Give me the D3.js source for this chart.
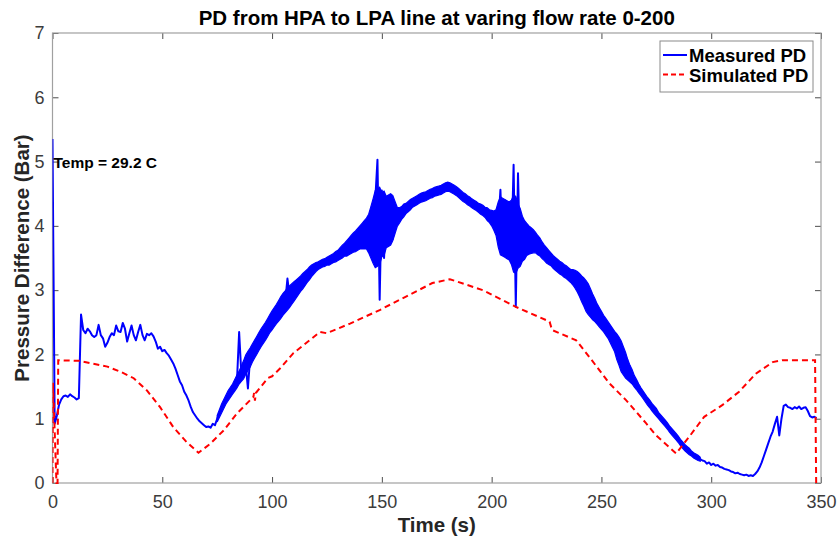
<!DOCTYPE html>
<html>
<head>
<meta charset="utf-8">
<script src="https://cdn.jsdelivr.net/npm/d3@7"></script>
<style>
  body { margin: 0; background: #fff; }
  text { font-family: "Liberation Sans", Arial, sans-serif; }
</style>
</head>
<body>
<script>
// medidas del lienzo
var ancho = 839, alto = 540;
var margen = {izq: 52.5, der: 821, arriba: 33, abajo: 483};

// PD medido, un valor por segundo (t = 0 .. 348 s)
var medido = [
  5.35, 0.92, 1.05, 1.22, 1.30, 1.35, 1.36, 1.34, 1.38, 1.35,
  1.33, 1.30, 1.32, 2.62, 2.38, 2.33, 2.40, 2.36, 2.30, 2.27,
  2.30, 2.46, 2.30, 2.25, 2.12, 2.18, 2.27, 2.33, 2.30, 2.45,
  2.36, 2.35, 2.49, 2.40, 2.20, 2.33, 2.45, 2.30, 2.22, 2.35,
  2.46, 2.30, 2.22, 2.32, 2.30, 2.33, 2.28, 2.20, 2.09, 2.12,
  2.05, 2.07, 2.02, 1.98, 1.92, 1.86, 1.78, 1.68, 1.58, 1.52,
  1.42, 1.36, 1.28, 1.18, 1.10, 1.05, 1.00, 0.96, 0.93, 0.90,
  0.87, 0.88, 0.86, 0.92, 0.90, 1.00, 1.08, 1.16, 1.23, 1.30,
  1.36, 1.41, 1.46, 1.52, 1.58, 2.35, 1.70, 1.76, 1.84, 1.47,
  1.95, 2.02, 2.08, 2.14, 2.20, 2.26, 2.31, 2.36, 2.42, 2.48,
  2.53, 2.58, 2.63, 2.68, 2.73, 2.78, 2.82, 3.18, 2.90, 2.94,
  2.98, 3.02, 3.06, 3.10, 3.14, 3.18, 3.22, 3.26, 3.30, 3.33,
  3.36, 3.38, 3.40, 3.42, 3.43, 3.45, 3.46, 3.48, 3.50, 3.52,
  3.54, 3.57, 3.60, 3.63, 3.65, 3.68, 3.71, 3.74, 3.76, 3.79,
  3.82, 3.84, 3.86, 3.88, 3.85, 3.90, 3.80, 4.40, 5.03, 2.85,
  4.55, 3.50, 4.25, 3.70, 4.30, 3.80, 4.10, 4.10, 4.16, 4.20,
  4.24, 4.27, 4.30, 4.33, 4.36, 4.38, 4.40, 4.42, 4.44, 4.45,
  4.46, 4.48, 4.50, 4.51, 4.53, 4.54, 4.55, 4.56, 4.58, 4.60,
  4.61, 4.60, 4.58, 4.56, 4.54, 4.51, 4.48, 4.45, 4.43, 4.40,
  4.38, 4.35, 4.33, 4.31, 4.28, 4.26, 4.24, 4.21, 4.18, 4.15,
  4.12, 4.08, 4.05, 4.00, 4.56, 3.60, 4.40, 3.80, 4.20, 3.55,
  4.95, 2.74, 4.82, 3.40, 4.10, 3.75, 3.95, 3.78, 3.85, 3.76,
  3.74, 3.70, 3.67, 3.62, 3.58, 3.54, 3.51, 3.48, 3.44, 3.41,
  3.38, 3.35, 3.33, 3.30, 3.28, 3.25, 3.22, 3.20, 3.17, 3.13,
  3.08, 3.02, 2.97, 2.91, 2.86, 2.80, 2.74, 2.69, 2.63, 2.58,
  2.53, 2.48, 2.43, 2.38, 2.32, 2.26, 2.20, 2.12, 2.05, 1.97,
  1.90, 1.83, 1.76, 1.70, 1.65, 1.58, 1.53, 1.47, 1.42, 1.37,
  1.32, 1.27, 1.23, 1.18, 1.14, 1.10, 1.05, 1.01, 0.97, 0.93,
  0.89, 0.84, 0.80, 0.76, 0.72, 0.68, 0.63, 0.59, 0.55, 0.52,
  0.49, 0.46, 0.43, 0.41, 0.39, 0.37, 0.35, 0.34, 0.30, 0.32,
  0.28, 0.30, 0.27, 0.28, 0.25, 0.24, 0.22, 0.21, 0.20, 0.18,
  0.17, 0.15, 0.16, 0.14, 0.13, 0.12, 0.13, 0.11, 0.12, 0.11,
  0.14, 0.18, 0.24, 0.32, 0.42, 0.52, 0.62, 0.72, 0.80, 0.92,
  1.03, 0.74, 1.00, 1.20, 1.22, 1.18, 1.17, 1.15, 1.18, 1.16,
  1.19, 1.15, 1.17, 1.18, 1.12, 1.04, 1.02, 1.03, 1.01
];

// banda de ruido del PD medido (min / max por segundo) desde t = 75 s
var inicioBanda = 75;
var bandaBajo = [
  0.95, 1.02, 1.09, 1.16, 1.23, 1.28, 1.33, 1.38, 1.43, 1.48,
  1.54, 1.58, 1.62, 1.69, 1.75, 1.80, 1.88, 1.94, 2.00, 2.06,
  2.12, 2.17, 2.22, 2.28, 2.34, 2.38, 2.43, 2.48, 2.52, 2.56,
  2.61, 2.65, 2.69, 2.73, 2.78, 2.83, 2.88, 2.93, 2.98, 3.02,
  3.07, 3.12, 3.16, 3.21, 3.25, 3.29, 3.32, 3.34, 3.36, 3.37,
  3.39, 3.39, 3.41, 3.43, 3.44, 3.46, 3.48, 3.50, 3.53, 3.53,
  3.55, 3.57, 3.59, 3.60, 3.62, 3.64, 3.64, 3.64, 3.64, 3.58,
  3.50, 3.42, 3.35, 3.37, 3.40, 3.52, 3.54, 3.66, 3.68, 3.70,
  3.77, 3.88, 3.99, 4.04, 4.10, 4.14, 4.19, 4.22, 4.25, 4.29,
  4.31, 4.33, 4.35, 4.37, 4.38, 4.39, 4.41, 4.43, 4.44, 4.46,
  4.47, 4.48, 4.49, 4.51, 4.53, 4.54, 4.53, 4.51, 4.49, 4.47,
  4.44, 4.41, 4.38, 4.36, 4.33, 4.31, 4.28, 4.26, 4.24, 4.21,
  4.18, 4.16, 4.13, 4.08, 4.05, 4.00, 3.93, 3.85, 3.67, 3.55,
  3.53, 3.51, 3.49, 3.47, 3.40, 3.28, 3.26, 3.34, 3.37, 3.45,
  3.48, 3.54, 3.56, 3.57, 3.58, 3.58, 3.55, 3.53, 3.49, 3.46,
  3.42, 3.40, 3.38, 3.34, 3.31, 3.28, 3.25, 3.23, 3.20, 3.18,
  3.15, 3.12, 3.08, 3.03, 2.97, 2.90, 2.82, 2.75, 2.67, 2.62,
  2.58, 2.54, 2.51, 2.47, 2.43, 2.39, 2.35, 2.30, 2.25, 2.18,
  2.11, 2.04, 1.92, 1.83, 1.73, 1.68, 1.63, 1.60, 1.57, 1.54,
  1.49, 1.45, 1.40, 1.36, 1.31, 1.26, 1.21, 1.17, 1.12, 1.08,
  1.04, 1.00, 0.96, 0.92, 0.88, 0.84, 0.79, 0.75, 0.71, 0.67,
  0.63, 0.58, 0.54, 0.50, 0.47, 0.44, 0.42, 0.39, 0.37, 0.35,
  0.34
];
var bandaAlto = [
  1.05, 1.14, 1.23, 1.30, 1.37, 1.44, 1.49, 1.54, 1.61, 1.68,
  1.74, 1.82, 1.90, 1.99, 2.05, 2.10, 2.16, 2.22, 2.28, 2.34,
  2.40, 2.45, 2.50, 2.56, 2.62, 2.68, 2.73, 2.78, 2.84, 2.90,
  2.95, 2.99, 3.03, 3.07, 3.10, 3.13, 3.16, 3.19, 3.22, 3.26,
  3.29, 3.32, 3.36, 3.39, 3.41, 3.43, 3.44, 3.46, 3.48, 3.49,
  3.51, 3.53, 3.55, 3.57, 3.60, 3.62, 3.66, 3.70, 3.73, 3.77,
  3.81, 3.85, 3.89, 3.92, 3.96, 4.00, 4.04, 4.08, 4.12, 4.18,
  4.30, 4.42, 4.55, 4.57, 4.60, 4.52, 4.54, 4.46, 4.48, 4.50,
  4.47, 4.38, 4.29, 4.28, 4.30, 4.34, 4.35, 4.38, 4.41, 4.43,
  4.45, 4.47, 4.49, 4.51, 4.52, 4.53, 4.55, 4.57, 4.58, 4.60,
  4.61, 4.62, 4.63, 4.65, 4.67, 4.68, 4.67, 4.65, 4.63, 4.61,
  4.58, 4.55, 4.52, 4.50, 4.47, 4.45, 4.42, 4.40, 4.38, 4.35,
  4.34, 4.32, 4.29, 4.28, 4.25, 4.24, 4.23, 4.25, 4.37, 4.45,
  4.43, 4.41, 4.39, 4.37, 4.40, 4.48, 4.46, 4.34, 4.27, 4.15,
  4.08, 4.04, 4.00, 3.97, 3.94, 3.90, 3.85, 3.81, 3.75, 3.70,
  3.66, 3.62, 3.58, 3.54, 3.51, 3.48, 3.45, 3.43, 3.40, 3.38,
  3.35, 3.32, 3.32, 3.31, 3.29, 3.26, 3.22, 3.19, 3.15, 3.10,
  3.02, 2.94, 2.87, 2.79, 2.73, 2.67, 2.61, 2.56, 2.51, 2.46,
  2.41, 2.36, 2.32, 2.27, 2.21, 2.12, 2.03, 1.92, 1.83, 1.76,
  1.67, 1.61, 1.54, 1.48, 1.43, 1.38, 1.33, 1.29, 1.24, 1.20,
  1.16, 1.10, 1.06, 1.02, 0.98, 0.94, 0.89, 0.85, 0.81, 0.77,
  0.73, 0.68, 0.64, 0.60, 0.57, 0.54, 0.50, 0.47, 0.45, 0.43,
  0.40
];

// PD simulado: tiempos y valores
var simTiempo = [0, 0.2, 0.9, 1.8, 2.3, 2.6, 12, 18, 25, 31, 37, 43, 49, 55, 61, 66.5,
  71.8, 78, 84, 91.5, 91.8, 92.2, 92.6, 98, 100, 103.6, 109.7, 121.8, 124.9, 135.5,
  149, 161, 173, 181, 196, 211, 226.4, 227.5, 238.5, 244.5, 253.6, 261.2, 270.3,
  274.9, 284, 290, 296.8, 305, 312.7, 320.3, 328, 332.4, 347.3, 347.8];
var simValor = [0, 1.56, 0.9, 0, 0, 1.91, 1.90, 1.86, 1.81, 1.73, 1.63, 1.44, 1.18, 0.87, 0.64, 0.47,
  0.61, 0.82, 1.08, 1.34, 1.40, 1.28, 1.40, 1.63, 1.66, 1.78, 2.02, 2.35, 2.33, 2.48,
  2.69, 2.90, 3.11, 3.17, 3.00, 2.74, 2.51, 2.38, 2.22, 1.96, 1.55, 1.29, 0.93,
  0.74, 0.46, 0.72, 1.03, 1.21, 1.42, 1.70, 1.88, 1.91, 1.91, 0];

var ticksX = [0, 50, 100, 150, 200, 250, 300, 350];
var ticksY = [0, 1, 2, 3, 4, 5, 6, 7];
var series = ["Measured PD", "Simulated PD"];

var svg = d3.select("body")
  .append("svg")
  .attr("width", ancho)
  .attr("height", alto);

var escalaX = d3.scaleLinear().domain([0, 350]).range([margen.izq, margen.der]);
var escalaY = d3.scaleLinear().domain([0, 7]).range([margen.abajo, margen.arriba]);

svg.append("clipPath").attr("id", "recorte")
  .append("rect")
  .attr("x", margen.izq).attr("y", margen.arriba - 2)
  .attr("width", margen.der - margen.izq + 1).attr("height", margen.abajo - margen.arriba + 3);

// ejes (ticks hacia dentro)
function estiloEje(g) {
  g.select(".domain").remove();
  g.selectAll(".tick line").attr("stroke", "#4d4d4d");
  g.selectAll("text").attr("fill", "#3c3c3c").style("font-size", "18px");
}

svg.append("g")
  .attr("transform", "translate(0," + margen.abajo + ")")
  .call(d3.axisBottom(escalaX).tickValues(ticksX).tickSizeInner(-6).tickSizeOuter(0).tickPadding(12))
  .call(estiloEje);

svg.append("g")
  .attr("transform", "translate(0," + margen.arriba + ")")
  .call(d3.axisTop(escalaX).tickValues(ticksX).tickSizeInner(-6).tickSizeOuter(0).tickFormat(""))
  .call(estiloEje);

svg.append("g")
  .attr("transform", "translate(" + margen.izq + ",0)")
  .call(d3.axisLeft(escalaY).tickValues(ticksY).tickFormat(d3.format("d")).tickSizeInner(-6).tickSizeOuter(0).tickPadding(8))
  .call(estiloEje);

svg.append("g")
  .attr("transform", "translate(" + margen.der + ",0)")
  .call(d3.axisRight(escalaY).tickValues(ticksY).tickSizeInner(-6).tickSizeOuter(0).tickFormat(""))
  .call(estiloEje);

// caja del grafico
svg.append("rect")
  .attr("x", margen.izq).attr("y", margen.arriba)
  .attr("width", margen.der - margen.izq).attr("height", margen.abajo - margen.arriba)
  .attr("fill", "none")
  .attr("stroke", "#a0a0a0")
  .attr("stroke-width", 1.2);

var linea = d3.line()
  .x(function(d) { return escalaX(d[0]); })
  .y(function(d) { return escalaY(d[1]); });

var area = d3.area()
  .x(function(d) { return escalaX(d[0]); })
  .y0(function(d) { return escalaY(d[1]); })
  .y1(function(d) { return escalaY(d[2]); });

var datosMedido = medido.map(function(v, i) { return [i, v]; });
var datosBanda = bandaBajo.map(function(v, i) { return [inicioBanda + i, v, bandaAlto[i]]; });
var datosSim = simTiempo.map(function(t, i) { return [t, simValor[i]]; });

var zona = svg.append("g").attr("clip-path", "url(#recorte)");

// banda de ruido
zona.append("path")
  .datum(datosBanda)
  .attr("d", area)
  .attr("fill", "#0000ff")
  .attr("stroke", "#0000ff")
  .attr("stroke-width", 1.2);

zona.append("path")
  .datum(datosMedido)
  .attr("d", linea)
  .attr("fill", "none")
  .attr("stroke", "#0000ff")
  .attr("stroke-width", 2)
  .attr("stroke-linejoin", "round");

zona.append("path")
  .datum(datosSim)
  .attr("d", linea)
  .attr("fill", "none")
  .attr("stroke", "#ff0000")
  .attr("stroke-width", 2)
  .attr("stroke-dasharray", "6,4");

// texto de temperatura
svg.append("text")
  .attr("x", escalaX(0) + 1)
  .attr("y", escalaY(5) + 6)
  .attr("font-weight", "bold")
  .style("font-size", "15.5px")
  .attr("fill", "#000")
  .text("Temp = 29.2 C");

// titulo y etiquetas
svg.append("text")
  .attr("x", (margen.izq + margen.der) / 2)
  .attr("y", 25)
  .attr("text-anchor", "middle")
  .attr("font-weight", "bold")
  .style("font-size", "20.5px")
  .attr("fill", "#000")
  .text("PD from HPA to LPA line at varing flow rate 0-200");

svg.append("text")
  .attr("x", (margen.izq + margen.der) / 2)
  .attr("y", 532)
  .attr("text-anchor", "middle")
  .attr("font-weight", "bold")
  .style("font-size", "20.5px")
  .attr("fill", "#262626")
  .text("Time (s)");

svg.append("text")
  .attr("transform", "translate(29," + (margen.arriba + margen.abajo) / 2 + ") rotate(-90)")
  .attr("text-anchor", "middle")
  .attr("font-weight", "bold")
  .style("font-size", "20.5px")
  .attr("fill", "#262626")
  .text("Pressure Difference (Bar)");

// leyenda
var leyenda = svg.append("g");
leyenda.append("rect")
  .attr("x", 660).attr("y", 41)
  .attr("width", 153).attr("height", 51)
  .attr("fill", "#fff")
  .attr("stroke", "#8a8a8a")
  .attr("stroke-width", 1);

var colores = ["#0000ff", "#ff0000"];
var guiones = [null, "5,3"];
series.forEach(function(nombre, i) {
  var yy = 55 + i * 19.5;
  leyenda.append("line")
    .attr("x1", 663).attr("x2", 687)
    .attr("y1", yy).attr("y2", yy)
    .attr("stroke", colores[i])
    .attr("stroke-width", 2)
    .attr("stroke-dasharray", guiones[i]);
  leyenda.append("text")
    .attr("x", 689)
    .attr("y", yy + 7)
    .attr("font-weight", "bold")
    .style("font-size", "18.5px")
    .attr("fill", "#000")
    .text(nombre);
});
</script>
</body>
</html>
